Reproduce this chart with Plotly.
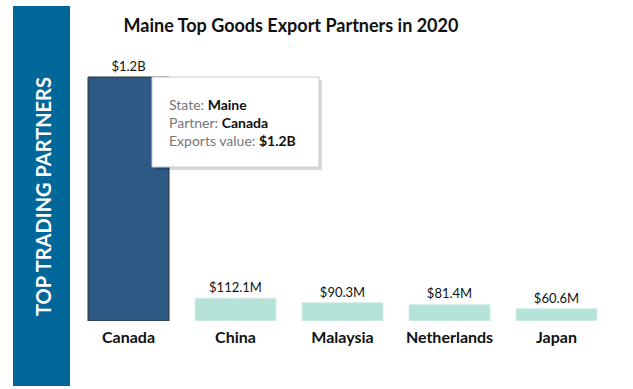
import plotly.graph_objects as go

partners = ["Canada", "China", "Malaysia", "Netherlands", "Japan"]
exports = [1.2e9, 112.1e6, 90.3e6, 81.4e6, 60.6e6]
labels = ["$1.2B", "$112.1M", "$90.3M", "$81.4M", "$60.6M"]
bar_colors = ["#2E5984", "#B5E2D9", "#B5E2D9", "#B5E2D9", "#B5E2D9"]
line_colors = ["#333333", "#D8F0EA", "#D8F0EA", "#D8F0EA", "#D8F0EA"]

W, H = 633, 389
ML, MR, MT, MB = 75, 23, 60, 68
PW, PH = W - ML - MR, H - MT - MB

def px(x):
    return (x - ML) / PW

def py(y):
    return (H - MB - y) / PH

# plot top at MT; Canada top at pixel 77
ymax = exports[0] * PH / ((H - MB) - 77)

fig = go.Figure(go.Bar(
    x=partners, y=exports, text=labels, textposition="outside",
    textfont=dict(family="Lato", size=13, color="#111"),
    cliponaxis=False,
    marker=dict(color=bar_colors, line=dict(color=line_colors, width=1)),
    hoverinfo="skip",
))

shapes = [
    dict(type="rect", xref="paper", yref="paper", x0=px(13), x1=px(70), y0=py(386), y1=py(6),
         fillcolor="#00679A", line=dict(width=0), layer="below"),
    # tooltip shadow
    dict(type="rect", xref="paper", yref="paper", x0=px(155), x1=px(322), y0=py(170), y1=py(80),
         fillcolor="rgba(0,0,0,0.15)", line=dict(width=0)),
    dict(type="rect", xref="paper", yref="paper", x0=px(152), x1=px(319), y0=py(167), y1=py(77),
         fillcolor="white", line=dict(color="#CCCCCC", width=1)),
]

annotations = [
    dict(text="<b>TOP TRADING PARTNERS</b>", xref="paper", yref="paper", x=px(43), y=py(197),
         textangle=-90, showarrow=False, font=dict(family="Lato", size=20, color="white"),
         xanchor="center", yanchor="middle"),
    dict(text="<span style='color:#777'>State: </span><b>Maine</b><br>"
              "<span style='color:#777'>Partner: </span><b>Canada</b><br>"
              "<span style='color:#777'>Exports value: </span><b>$1.2B</b>",
         xref="paper", yref="paper", x=px(167), y=py(122), xanchor="left", yanchor="middle",
         align="left", showarrow=False, font=dict(family="Lato", size=14, color="#111")),
]

fig.update_layout(
    width=W, height=H,
    margin=dict(l=ML, r=MR, t=MT, b=MB),
    paper_bgcolor="white", plot_bgcolor="white",
    title=dict(text="<b>Maine Top Goods Export Partners in 2020</b>", xref="container",
               x=291 / W, xanchor="center",
               y=1 - 26 / H, yanchor="middle", font=dict(family="Lato", size=18, color="#111")),
    bargap=0.243,
    xaxis=dict(showgrid=False, showline=False, ticks="", tickfont=dict(family="Lato", size=16, color="#111"),
               ticklabelstandoff=5),
    yaxis=dict(visible=False, range=[0, ymax]),
    shapes=shapes, annotations=annotations,
    showlegend=False,
)
fig.update_xaxes(tickprefix="<b>", ticksuffix="</b>")

fig.write_html("out.html")
